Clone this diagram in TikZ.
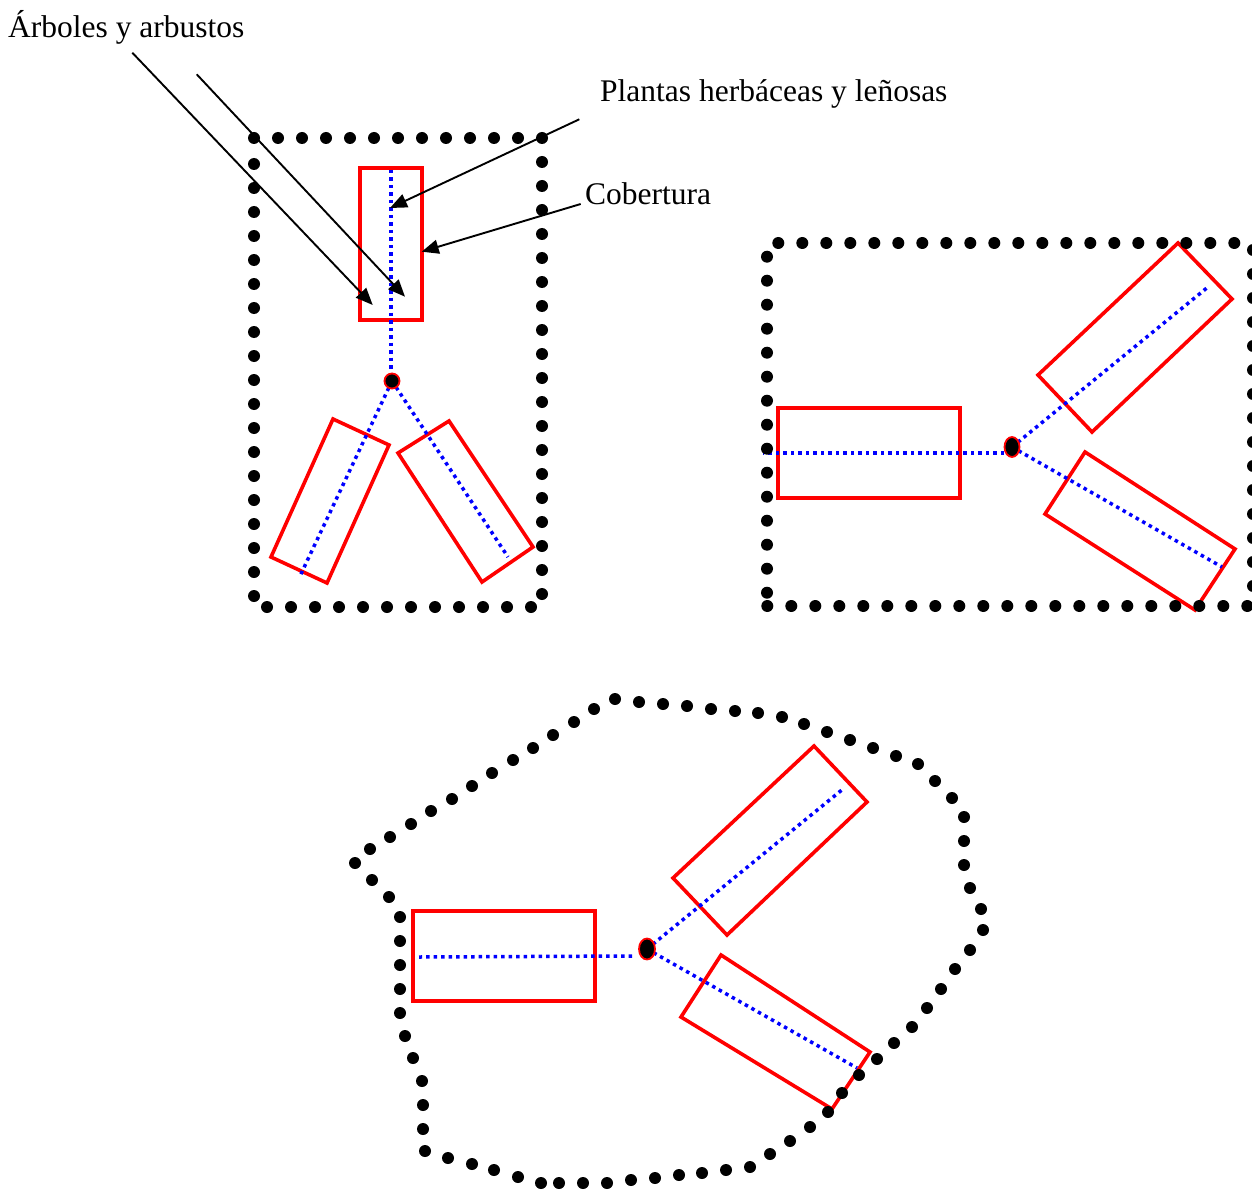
\documentclass[tikz,border=0pt]{standalone}
\usepackage{fontspec}
\setmainfont{Liberation Serif}
\usetikzlibrary{arrows.meta}
\begin{document}
\begin{tikzpicture}[x=1pt,y=-1pt,
  dotline/.style={draw=black, line width=12pt, line cap=round, dash pattern=on 0pt off 24pt},
  blackdot/.style={fill=black},
  redbox/.style={draw=red, line width=3.6pt, line join=miter},
  blueline/.style={draw=blue, line width=3.5pt, dash pattern=on 3.5pt off 4pt},
  hub/.style={draw=red, fill=black, line width=1.8pt},
  callout/.style={draw=black, line width=1.9pt, -{Triangle[length=17pt,width=14pt]}},
  lbl/.style={inner sep=0pt, anchor=base west, font=\fontsize{31.5}{36}\selectfont}]
\useasboundingbox (0,0) rectangle (1252,1190);

% ---------------- Panel 1 ----------------
\coordinate (c1) at (392,381);
\draw[redbox] (360,168) rectangle (422,320);
\draw[redbox] (333,419) -- (389,445) -- (327,583) -- (271,557) -- cycle;
\draw[redbox] (449,421) -- (533,547) -- (482,582) -- (398,453) -- cycle;
\coordinate (p1a) at (391,170);
\coordinate (p1b) at (391,373);
\coordinate (p1c) at (300,576);
\coordinate (p1d) at (508,557);
\draw[blueline] (p1a) -- (p1b);
\draw[blueline] (c1) -- (p1c);
\draw[blueline] (c1) -- (p1d);
\filldraw[hub] (c1) circle (7.5);
\draw[dotline] (254,138) -- (542,138) -- (542,607) -- (254,607) -- (254,150);

% ---------------- Panel 2 ----------------
\coordinate (c2) at (1012,447);
\draw[redbox] (778,408) rectangle (960,498);
\draw[redbox] (1038,375) -- (1178,243) -- (1232,299) -- (1092,432) -- cycle;
\draw[redbox] (1085,452) -- (1235,549) -- (1195,610) -- (1045,514) -- cycle;
\coordinate (p2a) at (1004,453);
\coordinate (p2b) at (763,453);
\coordinate (p2c) at (1208,287);
\coordinate (p2d) at (1222,567);
\draw[blueline] (p2a) -- (p2b);
\draw[blueline] (c2) -- (p2c);
\draw[blueline] (c2) -- (p2d);
\filldraw[hub] (c2) ellipse (7.5 and 10);
\draw[dotline] (778.3,243) -- (1234.5,243);
\draw[dotline] (767,256.7) -- (767,593);
\draw[dotline] (767.3,606) -- (1248.5,606);
\draw[dotline] (1253,250) -- (1253,586.5);

% ---------------- Panel 3 ----------------
\coordinate (c3) at (647,949);
\draw[redbox] (413,911) rectangle (595,1001);
\draw[redbox] (814,746) -- (867,802) -- (727,935) -- (673,878) -- cycle;
\draw[redbox] (721,955) -- (870,1052) -- (832,1109) -- (681,1017) -- cycle;
\coordinate (p3a) at (632,956);
\coordinate (p3b) at (419,957);
\coordinate (p3c) at (843,789);
\coordinate (p3d) at (857,1068);
\draw[blueline] (p3a) -- (p3b);
\draw[blueline] (c3) -- (p3c);
\draw[blueline] (c3) -- (p3d);
\filldraw[hub] (c3) ellipse (8 and 10.5);
\foreach \p in {(615,699),(639,702),(663,704),(687,706),(711,709),(735,711),(758,713),
  (782,717),(804,724),(827,732),(850,740),(873,748),(896,756),(918,764),(935,781),
  (952,798),(964,817),(964,841),(964,865),(970,888),(981,909),(983,930),(970,950),
  (955,969),(941,989),(927,1008),(912,1027),(894,1043),(877,1059),(859,1075),
  (842,1093),(828,1112),(810,1127),(790,1141),(770,1154),(750,1167),(726,1170),
  (702,1173),(679,1175),(655,1178),(631,1180),(607,1183),(583,1183),(559,1183),
  (541,1183),(518,1177),(494,1170),(472,1164),(448,1158),(425,1151),(423,1129),
  (423,1105),(422,1081),(413,1058),(405,1036),(400,1013),(400,989),(400,965),
  (400,941),(400,917),(389,897),(372,880),(355,863),(370,849),(390,837),(411,824),
  (431,811),(452,799),(472,786),(492,773),(513,760),(533,748),(553,735),(574,722),
  (594,709)}
  \fill[blackdot] \p circle (6);

% ---------------- Labels and callouts ----------------
\node[lbl] (arb) at (8,37.5) {Árboles y arbustos};
\node[lbl] (pla) at (600,101.7) {Plantas herbáceas y leñosas};
\node[lbl] (cob) at (585,205) {Cobertura};
\coordinate (s1) at (132.3,52.7);
\coordinate (t1) at (372.7,305);
\coordinate (s2) at (196.7,74.3);
\coordinate (t2) at (405,296.7);
\coordinate (s3) at (579.3,119.3);
\coordinate (t3) at (390,208);
\coordinate (s4) at (580.7,204);
\coordinate (t4) at (421.7,251.7);
\draw[callout] (s1) -- (t1);
\draw[callout] (s2) -- (t2);
\draw[callout] (s3) -- (t3);
\draw[callout] (s4) -- (t4);
\end{tikzpicture}
\end{document}
